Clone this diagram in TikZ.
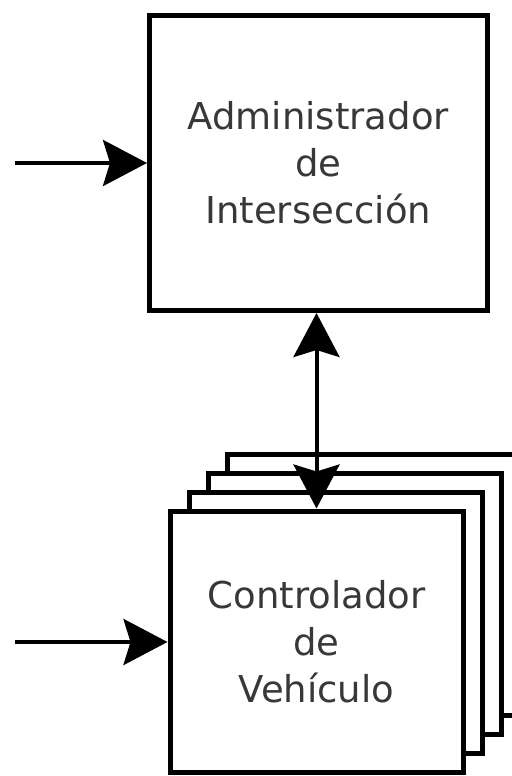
\documentclass[tikz,border=0pt]{standalone}
\usepackage{fontspec}
\setmainfont{DejaVu Sans}
\usetikzlibrary{arrows.meta}

\tikzset{punta/.tip={Stealth[length=22pt,width=23pt,inset=3.5pt]}}

\begin{document}
\begin{tikzpicture}[x=0.5pt, y=-0.5pt,
    bloque/.style={draw, line width=2.5pt, fill=white, align=center, inner sep=0pt,
      text=black!78, font=\fontsize{18.5}{23.5}\selectfont,
      minimum width=146.5pt, minimum height=130.5pt},
    flecha/.style={line width=2pt, -punta}]
  \useasboundingbox (0,0) rectangle (512,776);

  \node[bloque, minimum width=168.75pt, minimum height=147.75pt] (admin) at (318.25, 162.75) {Administrador\\de\\Intersección};

  % pila de controladores
  \node[bloque] (veh3) at (373.5, 584.5) {};
  \node[bloque] (veh2) at (354.5, 603.5) {};
  \node[bloque] (veh1) at (335.5, 622.5) {};
  \node[bloque] (veh) at (316.5, 641.5) {Controlador\\de\\Vehículo};

  \coordinate (ent1) at (15, 163);
  \coordinate (ent2) at (15, 642);

  \draw[flecha] (ent1) to (ent1 -| admin.west);
  \draw[flecha] (ent2) to (ent2 -| veh.west);
  \draw[flecha, punta-punta] (veh.north |- admin.south) to (veh.north);
\end{tikzpicture}
\end{document}
